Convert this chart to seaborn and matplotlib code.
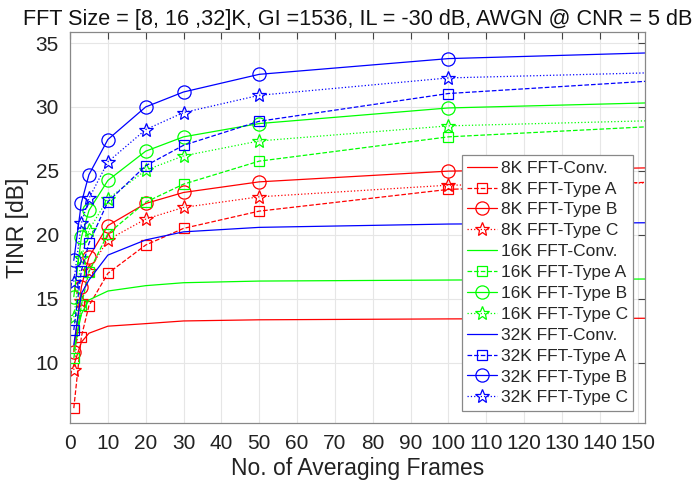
import matplotlib
matplotlib.use("Agg")
import matplotlib.pyplot as plt
import seaborn as sns
import numpy as np

# ---- data ----
frames = [1, 3, 5, 10, 20, 30, 50, 100, 152]

conv_8k  = [9.8, 11.6, 12.3, 12.85, 13.05, 13.26, 13.35, 13.42, 13.47]
typeA_8k = [6.44, 12.03, 14.45, 16.98, 19.2, 20.5, 21.85, 23.55, 24.1]
typeB_8k = [10.86, 15.94, 18.25, 20.72, 22.45, 23.31, 24.14, 24.98, 25.23]
typeC_8k = [9.43, 14.8, 17.2, 19.6, 21.23, 22.14, 22.97, 23.88, 24.06]

conv_16k  = [11.0, 13.8, 14.9, 15.6, 16.02, 16.25, 16.38, 16.46, 16.54]
typeA_16k = [10.34, 14.5, 17.1, 20.08, 22.55, 23.96, 25.76, 27.66, 28.44]
typeB_16k = [15.16, 19.8, 21.9, 24.25, 26.54, 27.66, 28.7, 29.92, 30.31]
typeC_16k = [13.55, 18.2, 20.37, 22.8, 25.05, 26.17, 27.34, 28.52, 28.91]

conv_32k  = [11.4, 15.4, 16.46, 18.41, 19.6, 20.23, 20.58, 20.84, 20.94]
typeA_32k = [12.55, 17.19, 19.33, 22.58, 25.4, 27.0, 28.88, 31.05, 32.0]
typeB_32k = [18.0, 22.5, 24.7, 27.45, 30.0, 31.17, 32.55, 33.78, 34.22]
typeC_32k = [16.33, 20.9, 22.84, 25.7, 28.23, 29.56, 30.91, 32.27, 32.66]

series = [
    ("8K FFT-Conv.", conv_8k), ("8K FFT-Type A", typeA_8k),
    ("8K FFT-Type B", typeB_8k), ("8K FFT-Type C", typeC_8k),
    ("16K FFT-Conv.", conv_16k), ("16K FFT-Type A", typeA_16k),
    ("16K FFT-Type B", typeB_16k), ("16K FFT-Type C", typeC_16k),
    ("32K FFT-Conv.", conv_32k), ("32K FFT-Type A", typeA_32k),
    ("32K FFT-Type B", typeB_32k), ("32K FFT-Type C", typeC_32k),
]

title = "FFT Size = [8, 16 ,32]K, GI =1536, IL = -30 dB, AWGN @ CNR = 5 dB"
xlabel = "No. of Averaging Frames"
ylabel = "TINR [dB]"
xticks = list(range(0, 151, 10))
yticks = [10, 15, 20, 25, 30, 35]

# ---- style ----
sns.set_style("white")
plt.rcParams["font.family"] = ["Liberation Sans", "DejaVu Sans"]

colors = ["#ff0000"] * 4 + ["#00ff00"] * 4 + ["#0000ff"] * 4
styles = [("-", None, 0), ("--", "s", 6.5), ("-", "o", 9.5), (":", "*", 10)] * 3

fig = plt.figure(figsize=(6.96, 4.87), dpi=100)
ax = fig.add_axes([0.1006, 0.132, 0.8264, 0.802])

n = len(frames)
for (label, vals), col, (ls, mk, ms) in zip(series, colors, styles):
    kw = dict(color=col, linestyle=ls, linewidth=0.9, label=label)
    if mk is not None:
        kw.update(marker=mk, markersize=ms, markerfacecolor="none",
                  markeredgecolor=col, markeredgewidth=0.9,
                  markevery=list(range(n - 1)))
    sns.lineplot(x=frames, y=vals, ax=ax, errorbar=None, **kw)

ax.set_xlim(0, 152)
ax.set_ylim(5.3, 35.85)
ax.set_xticks(xticks)
ax.set_yticks(yticks)
ax.grid(True, color="#e6e6e6", linewidth=0.8)
ax.set_axisbelow(True)
for s in ax.spines.values():
    s.set_color("#888888")
    s.set_linewidth(0.9)
ax.tick_params(direction="in", length=5, width=0.8, color="#444444",
               top=True, right=True, labelsize=15, labelcolor="#222222", pad=8)
ax.set_xlabel(xlabel, fontsize=16.5, color="#222222", labelpad=3)
ax.set_ylabel(ylabel, fontsize=16.5, color="#222222", labelpad=5)
ax.set_title(title, fontsize=15.6, color="#111111", pad=5)

leg = ax.legend(loc="lower right", bbox_to_anchor=(0.979, 0.031),
                borderaxespad=0, fontsize=12.5, frameon=True, fancybox=False,
                framealpha=1, edgecolor="#888888", handlelength=1.75,
                handletextpad=0.2, labelspacing=0.33, borderpad=0.3)
leg.get_frame().set_linewidth(0.9)

fig.savefig("out.png", dpi=100)
